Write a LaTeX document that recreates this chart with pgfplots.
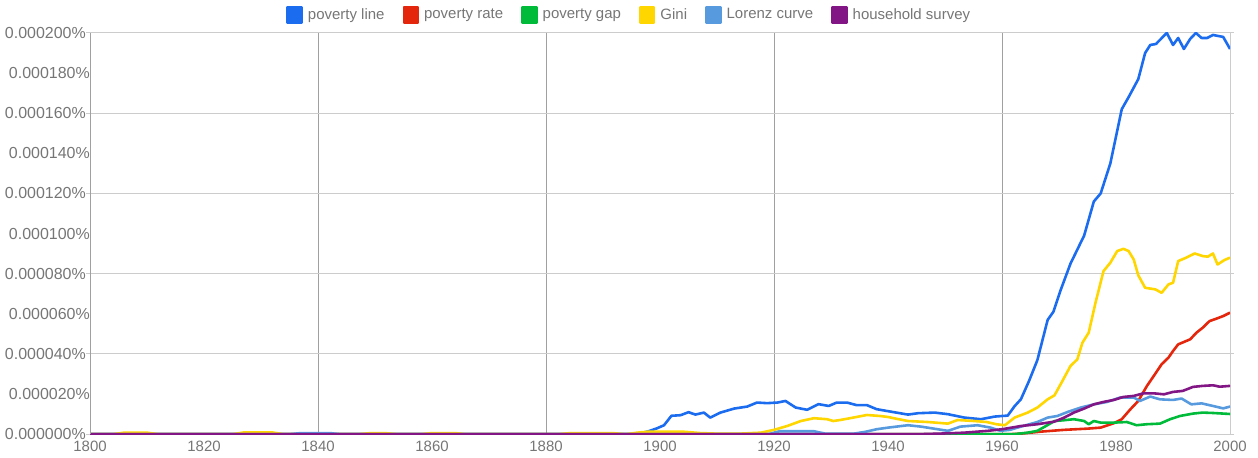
\documentclass[border=0pt]{standalone}
\usepackage{fontspec}
\setmainfont{Liberation Sans}
\usepackage{pgfplots}
\pgfplotsset{compat=1.18}
\definecolor{cline}{RGB}{28,108,240}
\definecolor{crate}{RGB}{228,38,12}
\definecolor{cgap}{RGB}{0,186,58}
\definecolor{cgini}{RGB}{255,214,0}
\definecolor{clor}{RGB}{88,154,222}
\definecolor{chh}{RGB}{130,22,132}
\definecolor{txt}{RGB}{118,118,118}
\definecolor{hgrid}{RGB}{204,204,204}
\definecolor{vgrid}{RGB}{160,160,160}
\begin{document}
\fontsize{15}{18}\selectfont
\begin{tikzpicture}
\path (-88pt,-20pt) rectangle (1170pt,435pt);
\begin{axis}[
  scale only axis,
  width=1142pt, height=402pt,
  xmin=1800, xmax=2000, ymin=0, ymax=200,
  xtick={1800,1840,...,2000},
  xticklabels={1800,1840,1880,1920,1960,2000},
  extra x ticks={1820,1860,1900,1940,1980},
  extra x tick labels={1820,1860,1900,1940,1980},
  extra x tick style={grid=none},
  ytick={0,40,...,200},
  yticklabels={0.000000\%,0.000040\%,0.000080\%,0.000120\%,0.000160\%,0.000200\%},
  extra y ticks={20,60,100,140,180},
  extra y tick labels={0.000020\%,0.000060\%,0.000100\%,0.000140\%,0.000180\%},
  extra y tick style={grid=none, major tick length=0pt},
  tick label style={font=\fontsize{15}{18}\selectfont, text=txt},
  xticklabel style={yshift=2pt},
  yticklabel style={xshift=5pt, font=\fontsize{16}{18}\selectfont},
  ymajorgrids, xmajorgrids,
  y grid style={hgrid, line width=1pt},
  x grid style={vgrid, line width=0.8pt},
  axis line style={hgrid, line width=1pt},
  major tick length=4pt,
  x tick style={draw=none},
  y tick style={hgrid, line width=1pt},
  tick align=outside,
  legend columns=-1,
  legend style={at={(0.473,1.045)}, anchor=center, draw=none, fill=none,
    font=\fontsize{15}{18}\selectfont, text=txt,
    /tikz/every odd column/.append style={column sep=3pt},
    /tikz/every even column/.append style={column sep=16pt}},
  legend image code/.code={\fill[#1] (0pt,-8pt) rectangle (14pt,8pt);},
  every axis plot/.append style={line width=2.6pt, line join=round},
]
\addplot[cline] coordinates {(1800,0) (1896,0) (1898,1.5) (1899.5,3) (1900.7,4.5) (1902,9.2) (1903.6,9.5) (1905,11) (1906.2,9.8) (1907.7,10.8) (1908.8,8.3) (1910.6,10.8) (1913,12.8) (1915.3,13.8) (1917,15.8) (1918.8,15.5) (1920.6,15.8) (1922,16.6) (1923.8,13.3) (1925.8,12.2) (1927.8,15) (1929.6,14.1) (1931,15.8) (1932.8,15.8) (1934.5,14.5) (1936.3,14.5) (1938,12.5) (1940,11.5) (1943.5,9.8) (1945.3,10.5) (1948.2,10.8) (1950.5,10) (1953.4,8.3) (1956.3,7.5) (1958.7,8.8) (1960,9.1) (1961,9.3) (1962.2,14) (1963.3,17.4) (1964.8,27) (1966.2,37) (1968,57) (1969,61) (1970.3,72) (1972,85) (1974.4,99) (1976.1,116) (1977.3,120) (1979,135) (1981,162) (1982.2,168) (1983.9,177) (1985.1,190) (1986,194) (1987,194.5) (1988.9,200) (1990,194) (1990.9,197.5) (1991.9,192) (1993,197) (1994,200) (1995,197.5) (1996,197.5) (1997,199) (1998.8,198) (2000,192)};
\addlegendentry{poverty line}
\addplot[crate] coordinates {(1800,0) (1961,0) (1963.3,0.3) (1966.8,1.3) (1970.9,2.2) (1975,2.8) (1977.3,3.3) (1979.6,5.5) (1981,7.5) (1982.5,12.4) (1983.9,16.6) (1985.4,24) (1986.6,29) (1988,34.9) (1989.2,38.2) (1990,41.5) (1990.9,44.8) (1993,47.3) (1994.1,50.6) (1995.2,53.1) (1996.4,56.4) (1997.6,57.6) (1998.8,58.9) (2000,60.6)};
\addlegendentry{poverty rate}
\addplot[cgap] coordinates {(1800,0) (1962,0) (1964.5,0.8) (1966.2,1.7) (1967.7,4.1) (1969.2,6.6) (1970.9,7) (1972.6,7.5) (1974.4,6.6) (1975.2,5) (1976.1,6.6) (1977.3,5.8) (1979.6,5.8) (1981.9,6.1) (1983.6,4.5) (1985.4,5) (1987.7,5.3) (1989.5,7.5) (1991.2,9.1) (1993.5,10.3) (1995.2,10.8) (1997,10.6) (2000,10.1)};
\addlegendentry{poverty gap}
\addplot[cgini] coordinates {(1800,0) (1804,0) (1806,0.8) (1810,0.8) (1812,0) (1825,0) (1827,0.9) (1832,0.9) (1834,0) (1847,0) (1849,0.5) (1852,0.5) (1854,0) (1858,0) (1860,0.6) (1864,0.6) (1866,0) (1882,0) (1884,0.5) (1892,0.5) (1894,0) (1896,0.8) (1898,1.3) (1904,1.3) (1907,0.6) (1910,0.3) (1914,0.3) (1917.7,0.8) (1920,2.2) (1922.3,4.1) (1924.7,6.6) (1927,8) (1929.3,7.5) (1930.4,6.6) (1931.6,7.1) (1933.9,8.3) (1936.3,9.6) (1938.6,9.1) (1940,8.6) (1941.5,7.7) (1943.5,6.6) (1947,6.1) (1950.5,5.3) (1952.2,7.1) (1955.1,6.6) (1957.3,6.1) (1959,5) (1960.5,4.5) (1962.2,8.3) (1964.5,10.8) (1966.2,13.3) (1968,17.4) (1969.2,19.4) (1970.6,26.6) (1972,34) (1973.2,37.3) (1974.1,45.6) (1975.2,50.6) (1976.4,65.6) (1977.8,81.3) (1979,85.5) (1980.2,91.3) (1981.3,92.4) (1982.2,91.3) (1983.1,87.1) (1983.9,79.2) (1985.1,73) (1986.9,72.2) (1988,70.5) (1989.2,74.7) (1990,75.5) (1990.9,86.3) (1992.3,88) (1993.8,90.1) (1995.2,88.8) (1996.1,88.5) (1997,90.1) (1997.8,84.6) (1999,86.8) (2000,88)};
\addlegendentry{Gini}
\addplot[clor] coordinates {(1800,0) (1835,0) (1837,0.6) (1842,0.6) (1844,0) (1919,0) (1921,1.5) (1927,1.5) (1929,0.3) (1934,0.3) (1936,1.2) (1938,2.5) (1940,3.3) (1943.5,4.5) (1945.8,3.8) (1948.7,2.5) (1950.5,1.7) (1952.7,3.8) (1955.7,4.5) (1958,3.3) (1959.7,1.7) (1961.4,2.2) (1963.3,3.8) (1966.2,6.1) (1968,8.3) (1969.7,9.1) (1971.5,11.1) (1973.8,13.3) (1976.1,14.9) (1978.4,16.1) (1980.7,18.3) (1983.1,18.3) (1984.2,16.6) (1986,18.8) (1987.7,17.4) (1990,17.1) (1991.5,17.8) (1993.2,14.9) (1995,15.4) (1997,14.1) (1998.8,12.9) (2000,13.8)};
\addlegendentry{Lorenz curve}
\addplot[chh] coordinates {(1800,0) (1945,0) (1950,0.4) (1953.4,0.8) (1957.5,1.7) (1960,2.5) (1963.3,4.1) (1966.2,5) (1969.2,6.3) (1970.9,8.3) (1972.6,10.8) (1974.4,12.8) (1976.1,14.9) (1977.8,16.1) (1979.6,17.1) (1981.3,18.6) (1983.1,19.1) (1984.8,20.4) (1986.6,20.4) (1988.4,19.9) (1990,21.1) (1991.7,21.6) (1993.5,23.6) (1995.2,24.1) (1997,24.4) (1998.2,23.7) (2000,24.1)};
\addlegendentry{household survey}
\draw[vgrid, line width=1pt] (rel axis cs:0,0) -- (rel axis cs:0,1);
\end{axis}
\end{tikzpicture}
\end{document}
